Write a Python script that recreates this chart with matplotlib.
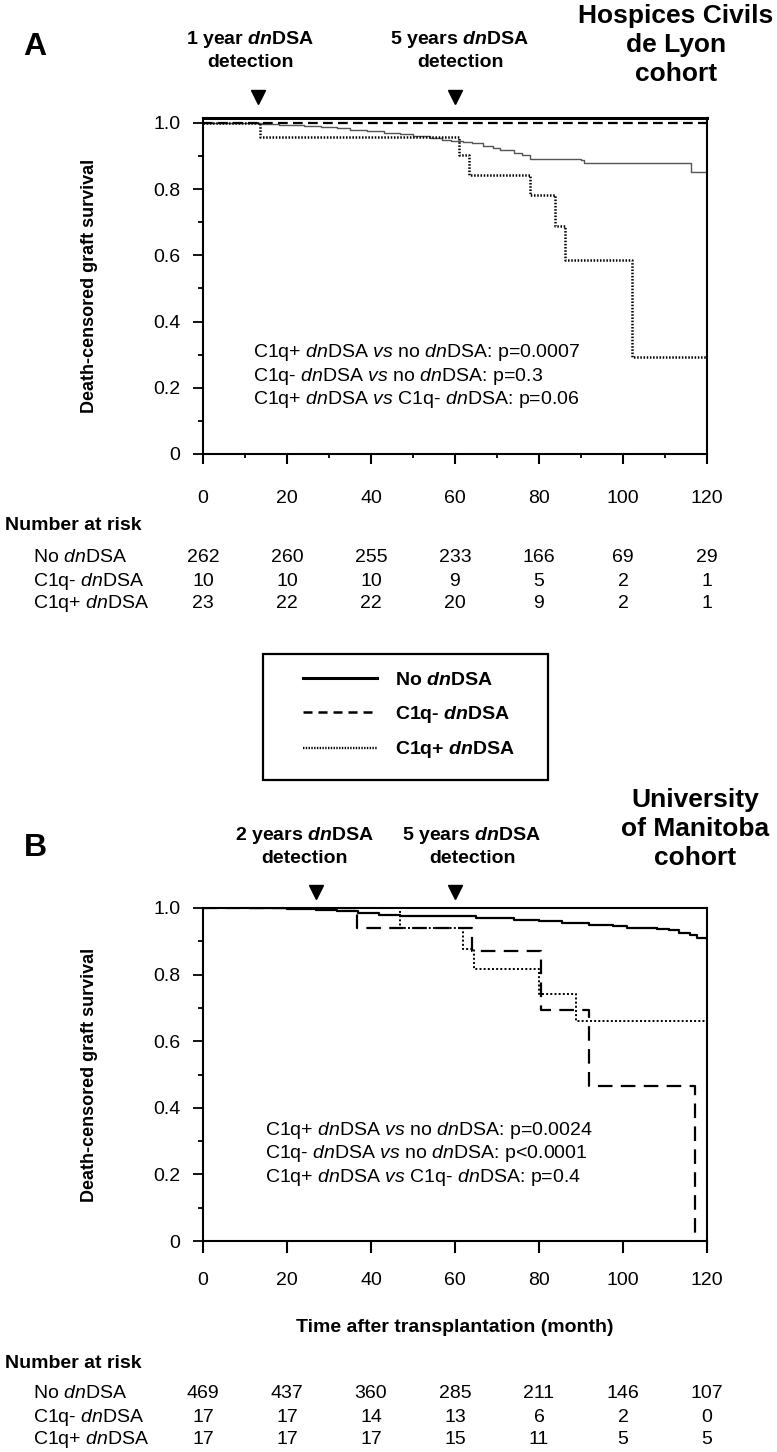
import matplotlib
matplotlib.use("Agg")
import matplotlib.pyplot as plt
from matplotlib.lines import Line2D
from matplotlib.patches import Rectangle
from matplotlib.ticker import MultipleLocator
from matplotlib.transforms import blended_transform_factory

plt.rcParams["font.family"] = ["Liberation Sans", "DejaVu Sans"]
plt.rcParams["mathtext.fontset"] = "custom"
plt.rcParams["mathtext.rm"] = "Liberation Sans"
plt.rcParams["mathtext.it"] = "Liberation Sans:italic"
plt.rcParams["mathtext.bf"] = "Liberation Sans:bold"
plt.rcParams["mathtext.bfit"] = "Liberation Sans:italic:bold"
plt.rcParams["lines.scale_dashes"] = False

W, H = 777, 1452
DN = r"$\mathit{dn}$"
DNB = r"$\mathbfit{dn}$"
VS = r"$\mathit{vs}$"

groups = ["No " + DN + "DSA", "C1q- " + DN + "DSA", "C1q+ " + DN + "DSA"]
legend_labels = ["No " + DNB + "DSA", "C1q- " + DNB + "DSA", "C1q+ " + DNB + "DSA"]
risk_times = [0, 20, 40, 60, 80, 100, 120]

# --- Panel A: Hospices Civils de Lyon ---
a_none_t = [0, 14, 18, 24, 28, 32, 35, 39, 43, 47, 50, 54, 57, 59, 62, 64, 66.7, 69, 70.8, 74, 76, 77.8, 90, 90.6, 116.3, 120]
a_none_s = [1.0, 0.997, 0.993, 0.99, 0.988, 0.984, 0.98, 0.976, 0.97, 0.966, 0.962, 0.956, 0.95, 0.945,
            0.942, 0.938, 0.93, 0.924, 0.917, 0.91, 0.904, 0.892, 0.889, 0.878, 0.853, 0.853]
a_neg_t = [0, 120]
a_neg_s = [1.0, 1.0]
a_pos_t = [0, 13.6, 61.0, 63.4, 77.8, 83.8, 86.3, 102.1, 120]
a_pos_s = [1.0, 0.957, 0.904, 0.843, 0.782, 0.689, 0.587, 0.293, 0.293]
a_risk = [[262, 260, 255, 233, 166, 69, 29],
          [10, 10, 10, 9, 5, 2, 1],
          [23, 22, 22, 20, 9, 2, 1]]
a_pvals = ["C1q+ " + DN + "DSA " + VS + " no " + DN + "DSA: p=0.0007",
           "C1q- " + DN + "DSA " + VS + " no " + DN + "DSA: p=0.3",
           "C1q+ " + DN + "DSA " + VS + " C1q- " + DN + "DSA: p=0.06"]
a_marks = [13, 60]

# --- Panel B: University of Manitoba ---
b_none_t = [11.5, 20, 27, 32, 37, 42, 47, 55, 65, 74, 80, 85.5, 92, 97.5, 101, 108, 111, 113.4, 116, 117.5, 120]
b_none_s = [1.0, 0.997, 0.993, 0.99, 0.985, 0.98, 0.977, 0.975, 0.97, 0.965, 0.96, 0.955, 0.95, 0.945,
            0.939, 0.937, 0.935, 0.925, 0.918, 0.91, 0.908]
b_neg_t = [0, 36.6, 64.1, 80.5, 91.9, 117.1]
b_neg_s = [1.0, 0.94, 0.87, 0.695, 0.465, 0.0]
b_pos_t = [0, 46.8, 62.0, 64.5, 80.1, 88.9, 120]
b_pos_s = [1.0, 0.94, 0.878, 0.817, 0.742, 0.66, 0.66]
b_risk = [[469, 437, 360, 285, 211, 146, 107],
          [17, 17, 14, 13, 6, 2, 0],
          [17, 17, 17, 15, 11, 5, 5]]
b_pvals = ["C1q+ " + DN + "DSA " + VS + " no " + DN + "DSA: p=0.0024",
           "C1q- " + DN + "DSA " + VS + " no " + DN + "DSA: p<0.0001",
           "C1q+ " + DN + "DSA " + VS + " C1q- " + DN + "DSA: p=0.4"]
b_marks = [27, 60]


def fy(px):
    "pixel row (from top) -> figure fraction"
    return 1 - px / H


fig = plt.figure(figsize=(W / 100, H / 100), dpi=100)


def setup_axes(ax, ytop, xminor, xpad, xlen):
    ax.set_xlim(0, 120)
    ax.set_ylim(0, ytop)
    ax.set_xticks(risk_times)
    ax.set_yticks([0, 0.2, 0.4, 0.6, 0.8, 1.0])
    ax.set_yticklabels(["0", "0.2", "0.4", "0.6", "0.8", "1.0"])
    ax.yaxis.set_minor_locator(MultipleLocator(0.1))
    if xminor:
        ax.xaxis.set_minor_locator(MultipleLocator(10))
    ax.tick_params(axis="x", which="major", length=xlen, width=1.5, pad=xpad, labelsize=14)
    ax.tick_params(axis="x", which="minor", length=3, width=1.3)
    ax.tick_params(axis="y", which="major", length=7.2, width=1.3, pad=9, labelsize=14)
    ax.tick_params(axis="y", which="minor", length=3.6, width=1.3)
    for sp in ax.spines.values():
        sp.set_linewidth(1.5)


def risk_table(ax, rows, y_title, y_rows):
    tr = blended_transform_factory(ax.transData, fig.transFigure)
    fig.text(5 / W, fy(y_title), "Number at risk", fontsize=14, fontweight="bold", va="center")
    for label, vals, y in zip(groups, rows, y_rows):
        fig.text(33 / W, fy(y), label, fontsize=14, va="center")
        for t, v in zip(risk_times, vals):
            ax.text(t, fy(y), str(v), transform=tr, ha="center", va="center", fontsize=14)


def headers(ax, marks, mark_y, titles, title_y, cohort, cohort_xy, letter, letter_y):
    tr = blended_transform_factory(ax.transData, fig.transFigure)
    ax.plot(marks, [fy(mark_y)] * len(marks), transform=tr, ls="none", marker="v",
            ms=10, color="k", clip_on=False)
    for (x, txt) in titles:
        fig.text(x / W, fy(title_y), txt, ha="center", va="center", fontsize=14,
                 fontweight="bold", linespacing=1.25)
    fig.text(cohort_xy[0] / W, fy(cohort_xy[1]), cohort, ha="center", va="center",
             fontsize=19, fontweight="bold", linespacing=1.28)
    fig.text(35 / W, fy(letter_y), letter, ha="center", va="center", fontsize=23, fontweight="bold")
    fig.text(90 / W, ax.get_position().y0 + ax.get_position().height / 2,
             "Death-censored graft survival", rotation=90, ha="center", va="center",
             fontsize=13, fontweight="bold")


# Panel A
axA = fig.add_axes([203 / W, fy(454), 504 / W, (454 - 118) / H])
setup_axes(axA, 1.015, True, 19, 7.2)
axA.spines["top"].set_linewidth(2.2)
axA.step(a_none_t, a_none_s, where="post", color="#555555", lw=1.0)
axA.step(a_neg_t, a_neg_s, where="post", color="k", lw=1.6, ls=(0, (7, 3.8)))
axA.step(a_pos_t, a_pos_s, where="post", color="k", lw=1.8, ls=(0, (1.1, 1.2)))
for i, txt in enumerate(a_pvals):
    axA.text(11.9, [0.306, 0.235, 0.164][i], txt, fontsize=14, va="center")
risk_table(axA, a_risk, 525, [557, 581, 604])
headers(axA, a_marks, 97,
        [(250, "1 year " + DNB + "DSA\ndetection"), (460, "5 years " + DNB + "DSA\ndetection")], 50,
        "Hospices Civils\nde Lyon\ncohort", (676, 45), "A", 47)

# Legend between the panels
handles = [Line2D([], [], color="k", lw=2.2),
           Line2D([], [], color="k", lw=1.8, ls=(0, (6.5, 4.3))),
           Line2D([], [], color="k", lw=1.7, ls=(0, (1.0, 1.0)))]
fig.legend(handles, legend_labels, loc="center left", bbox_to_anchor=(303 / W, fy(716)),
           frameon=False, prop={"weight": "bold", "size": 14}, handlelength=3.8,
           handletextpad=0.95, labelspacing=0.75, borderpad=0, borderaxespad=0)
fig.add_artist(Rectangle((263 / W, fy(780)), 285 / W, 126 / H, transform=fig.transFigure,
                         fill=False, lw=1.6, ec="k"))

# Panel B
axB = fig.add_axes([203 / W, fy(1241), 504 / W, 333 / H])
setup_axes(axB, 1.0, False, 14, 8.6)
axB.step(b_none_t, b_none_s, where="post", color="k", lw=1.6)
axB.step(b_neg_t, b_neg_s, where="post", color="k", lw=1.6, ls=(0, (10.5, 6)))
axB.step(b_pos_t, b_pos_s, where="post", color="k", lw=1.4, ls=(0, (1.4, 1.6)))
for i, txt in enumerate(b_pvals):
    axB.text(14.8, [0.333, 0.262, 0.19][i], txt, fontsize=14, va="center")
fig.text(455 / W, fy(1328), "Time after transplantation (month)", ha="center", va="center",
         fontsize=14, fontweight="bold")
risk_table(axB, b_risk, 1363, [1393, 1417, 1440])
headers(axB, b_marks, 892,
        [(305, "2 years " + DNB + "DSA\ndetection"), (472, "5 years " + DNB + "DSA\ndetection")], 846,
        "University\nof Manitoba\ncohort", (695, 829), "B", 848)

fig.savefig("out.png", dpi=100)
